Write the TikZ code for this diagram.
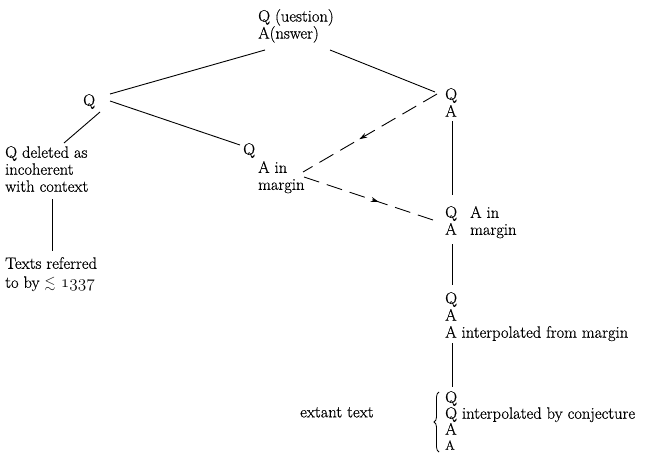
\documentclass[tikz,border=0pt]{standalone}
\usepackage{amssymb}
\usepackage{fontspec}
\setmainfont{Latin Modern Roman}[FakeBold=0.5]
\usetikzlibrary{decorations.markings,decorations.pathreplacing,arrows.meta}
\begin{document}
\begin{tikzpicture}[x=1pt,y=-1pt,
  txt/.style={anchor=north west, inner sep=0pt, align=left, font=\fontsize{16.5}{17}\selectfont},
  link/.style={line width=0.9pt},
  dlink/.style={line width=0.9pt, dash pattern=on 16pt off 8pt, postaction={decorate},
    decoration={markings, mark=at position 0.58 with {\arrow{Stealth[length=8pt,width=5pt]}}}},
  bracestyle/.style={line width=0.8pt, decorate, decoration={brace, amplitude=5pt}}]
\useasboundingbox (0,0) rectangle (663,452);
\node[txt] (top) at (258,9) {Q (uestion)\\A(nswer)};
\node[txt] (lq) at (83,94) {Q};
\node[txt] (rq) at (445,88) {Q\\A};
\node[txt] (mq) at (243,143) {Q};
\node[txt] (mqa) at (258,161) {A in\\margin};
\node[txt] (del) at (5,146) {Q deleted as\\incoherent\\with context};
\node[txt] (texts) at (5,257) {Texts referred\\[2pt]to by {\fontsize{14}{14}\selectfont$\lesssim$}\,\,{\usefont{OML}{cmm}{m}{it}1337}};
\node[txt] (n3) at (445,206) {Q\\A};
\node[txt] (n3m) at (470,206) {A in\\margin};
\node[txt] (n4) at (445,292) {Q\\A\\A interpolated from margin};
\node[txt] (n5) at (445,391) {Q\\[-1pt]Q interpolated by conjecture\\[-1pt]A\\[-2pt]{\fontsize{13}{14}\selectfont A}};
\node[txt] (ext) at (300,407) {extant text};
\draw[link] ([shift={(7,41)}]top.north west) -- ([shift={(27,0)}]lq.north west);
\draw[link] ([shift={(72,41)}]top.north west) -- ([shift={(-10,4)}]rq.north west);
\draw[link] ([shift={(17,18)}]lq.north west) -- ([shift={(59,-3)}]del.north west);
\draw[link] ([shift={(27,7)}]lq.north west) -- ([shift={(-3,2)}]mq.north west);
\draw[link] ([shift={(47,53)}]del.north west) -- ([shift={(47,-6)}]texts.north west);
\draw[link] ([shift={(7,33)}]rq.north west) -- ([shift={(7,-11)}]n3.north west);
\draw[link] ([shift={(7,38)}]n3.north west) -- ([shift={(7,-7)}]n4.north west);
\draw[link] ([shift={(7,51)}]n4.north west) -- ([shift={(7,-4)}]n5.north west);
\draw[dlink] ([shift={(-8,6)}]rq.north west) -- ([shift={(45,11)}]mqa.north west);
\draw[dlink] ([shift={(46,16)}]mqa.north west) -- ([shift={(-12,14)}]n3.north west);
\draw[bracestyle] ([shift={(-6,61)}]n5.north west) -- ([shift={(-6,1)}]n5.north west);
\end{tikzpicture}
\end{document}
